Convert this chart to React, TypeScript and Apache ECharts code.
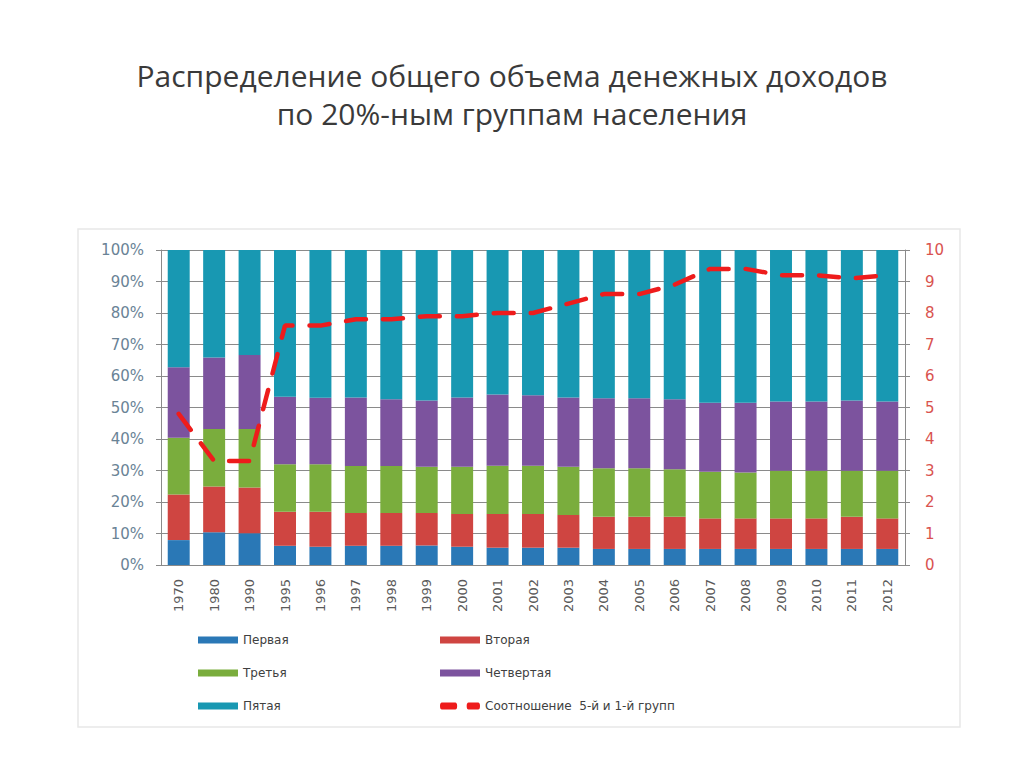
import React, { useEffect, useRef } from "react";
import * as echarts from "echarts";

const years = ["1970","1980","1990","1995","1996","1997","1998","1999","2000","2001","2002","2003","2004","2005","2006","2007","2008","2009","2010","2011","2012"];
const first  = [7.9,10.4,10.1,6.1,5.8,6.1,6.1,6.2,5.8,5.5,5.5,5.5,5.1,5.1,5.1,5.1,5.1,5.1,5.1,5.1,5.1];
const second = [14.5,14.5,14.5,10.8,11.1,10.4,10.4,10.3,10.4,10.7,10.7,10.4,10.2,10.2,10.2,9.7,9.7,9.7,9.7,10.2,9.7];
const third  = [18.0,18.3,18.6,15.1,15.1,14.9,14.9,14.7,15.0,15.3,15.3,15.3,15.4,15.4,15.1,14.8,14.6,15.1,15.1,14.6,15.1];
const fourth = [22.4,22.7,23.5,21.4,21.1,21.8,21.2,21.0,22.0,22.6,22.4,22.0,22.2,22.2,22.2,21.9,22.1,22.0,22.0,22.3,22.0];
const fifth  = [37.2,34.1,33.3,46.6,46.9,46.8,47.4,47.8,46.8,45.9,46.1,46.8,47.1,47.1,47.4,48.5,48.5,48.1,48.1,47.8,48.1];
const ratio  = [4.8,3.3,3.3,7.6,7.6,7.8,7.8,7.9,7.9,8.0,8.0,8.3,8.6,8.6,8.9,9.4,9.4,9.2,9.2,9.1,9.2];

const names = ["Первая","Вторая","Третья","Четвертая","Пятая"];
const ratioName = "Соотношение  5-й и 1-й групп";
const colors = ["#2a78b6","#cf4541","#7aad3d","#7c539e","#1898b2"];

const FONT = "DejaVu Sans";

export default function App() {
  const ref = useRef<HTMLDivElement>(null);
  useEffect(() => {
    const chart = echarts.init(ref.current!, null, { renderer: "svg" });
    const groups = [first, second, third, fourth, fifth];
    const barSeries = groups.map((d, i) => ({
      name: names[i],
      type: "bar",
      stack: "total",
      barWidth: "62%",
      data: d,
      itemStyle: { color: colors[i] },
      yAxisIndex: 0,
    }));
    const dashIcon = "path://M2,0H16A2,2,0,0,1,16,4H2A2,2,0,0,1,2,0Z M30,0H40A2,2,0,0,1,40,4H30A2,2,0,0,1,30,0Z";
    chart.setOption({
      animation: false,
      backgroundColor: "#ffffff",
      title: {
        text: "Распределение общего объема денежных доходов\nпо 20%-ным группам населения",
        left: "center",
        top: 51,
        textStyle: { fontFamily: "Open Sans", fontSize: 30, fontWeight: "normal", color: "#3a3a3a", lineHeight: 38 },
      },
      graphic: [
        { type: "rect", shape: { x: 78, y: 229, width: 882, height: 498 }, style: { fill: "none", stroke: "#e8e8e8", lineWidth: 1.5 }, z: -1 },
      ],
      grid: { left: 161, top: 250, width: 744, height: 315, containLabel: false },
      legend: [
        {
          orient: "vertical", left: 193, top: 629, itemWidth: 40, itemHeight: 7, itemGap: 21,
          icon: "rect",
          data: [names[0], names[2], names[4]],
          textStyle: { fontFamily: FONT, fontSize: 12, color: "#404040" },
        },
        {
          orient: "vertical", left: 435, top: 629, itemWidth: 40, itemHeight: 7, itemGap: 21,
          symbolKeepAspect: false,
          data: [{ name: names[1], icon: "rect" }, { name: names[3], icon: "rect" }, { name: ratioName, icon: dashIcon }],
          textStyle: { fontFamily: FONT, fontSize: 12, color: "#404040" },
        },
      ],
      xAxis: {
        type: "category",
        data: years,
        axisLine: { lineStyle: { color: "#8a8a8a" } },
        axisTick: { show: false },
        axisLabel: { rotate: 90, fontFamily: FONT, fontSize: 13, color: "#5a5a5a", margin: 14 },
      },
      yAxis: [
        {
          type: "value", min: 0, max: 100, interval: 10,
          axisLine: { show: true, lineStyle: { color: "#8a8a8a" } },
          axisTick: { show: true, length: 5, lineStyle: { color: "#8a8a8a" } },
          splitLine: { lineStyle: { color: "#8a8a8a" } },
          axisLabel: { formatter: "{value}%", fontFamily: FONT, fontSize: 15, color: "#6a8396", margin: 17 },
        },
        {
          type: "value", min: 0, max: 10, interval: 1, position: "right",
          axisLine: { show: true, lineStyle: { color: "#8a8a8a" } },
          axisTick: { show: true, length: 5, lineStyle: { color: "#8a8a8a" } },
          splitLine: { show: false },
          axisLabel: { fontFamily: FONT, fontSize: 15, color: "#d9534f", margin: 20 },
        },
      ],
      series: [
        ...barSeries,
        {
          name: ratioName,
          type: "line",
          yAxisIndex: 1,
          data: ratio,
          symbol: "none",
          z: 5,
          lineStyle: { color: "#ee1c1c", width: 4.5, type: [20, 17], cap: "round" },
          itemStyle: { color: "#ee1c1c" },
        },
      ],
    });
    return () => chart.dispose();
  }, []);
  return <div ref={ref} style={{ position: "fixed", left: 0, top: 0, width: 1024, height: 767 }} />;
}
